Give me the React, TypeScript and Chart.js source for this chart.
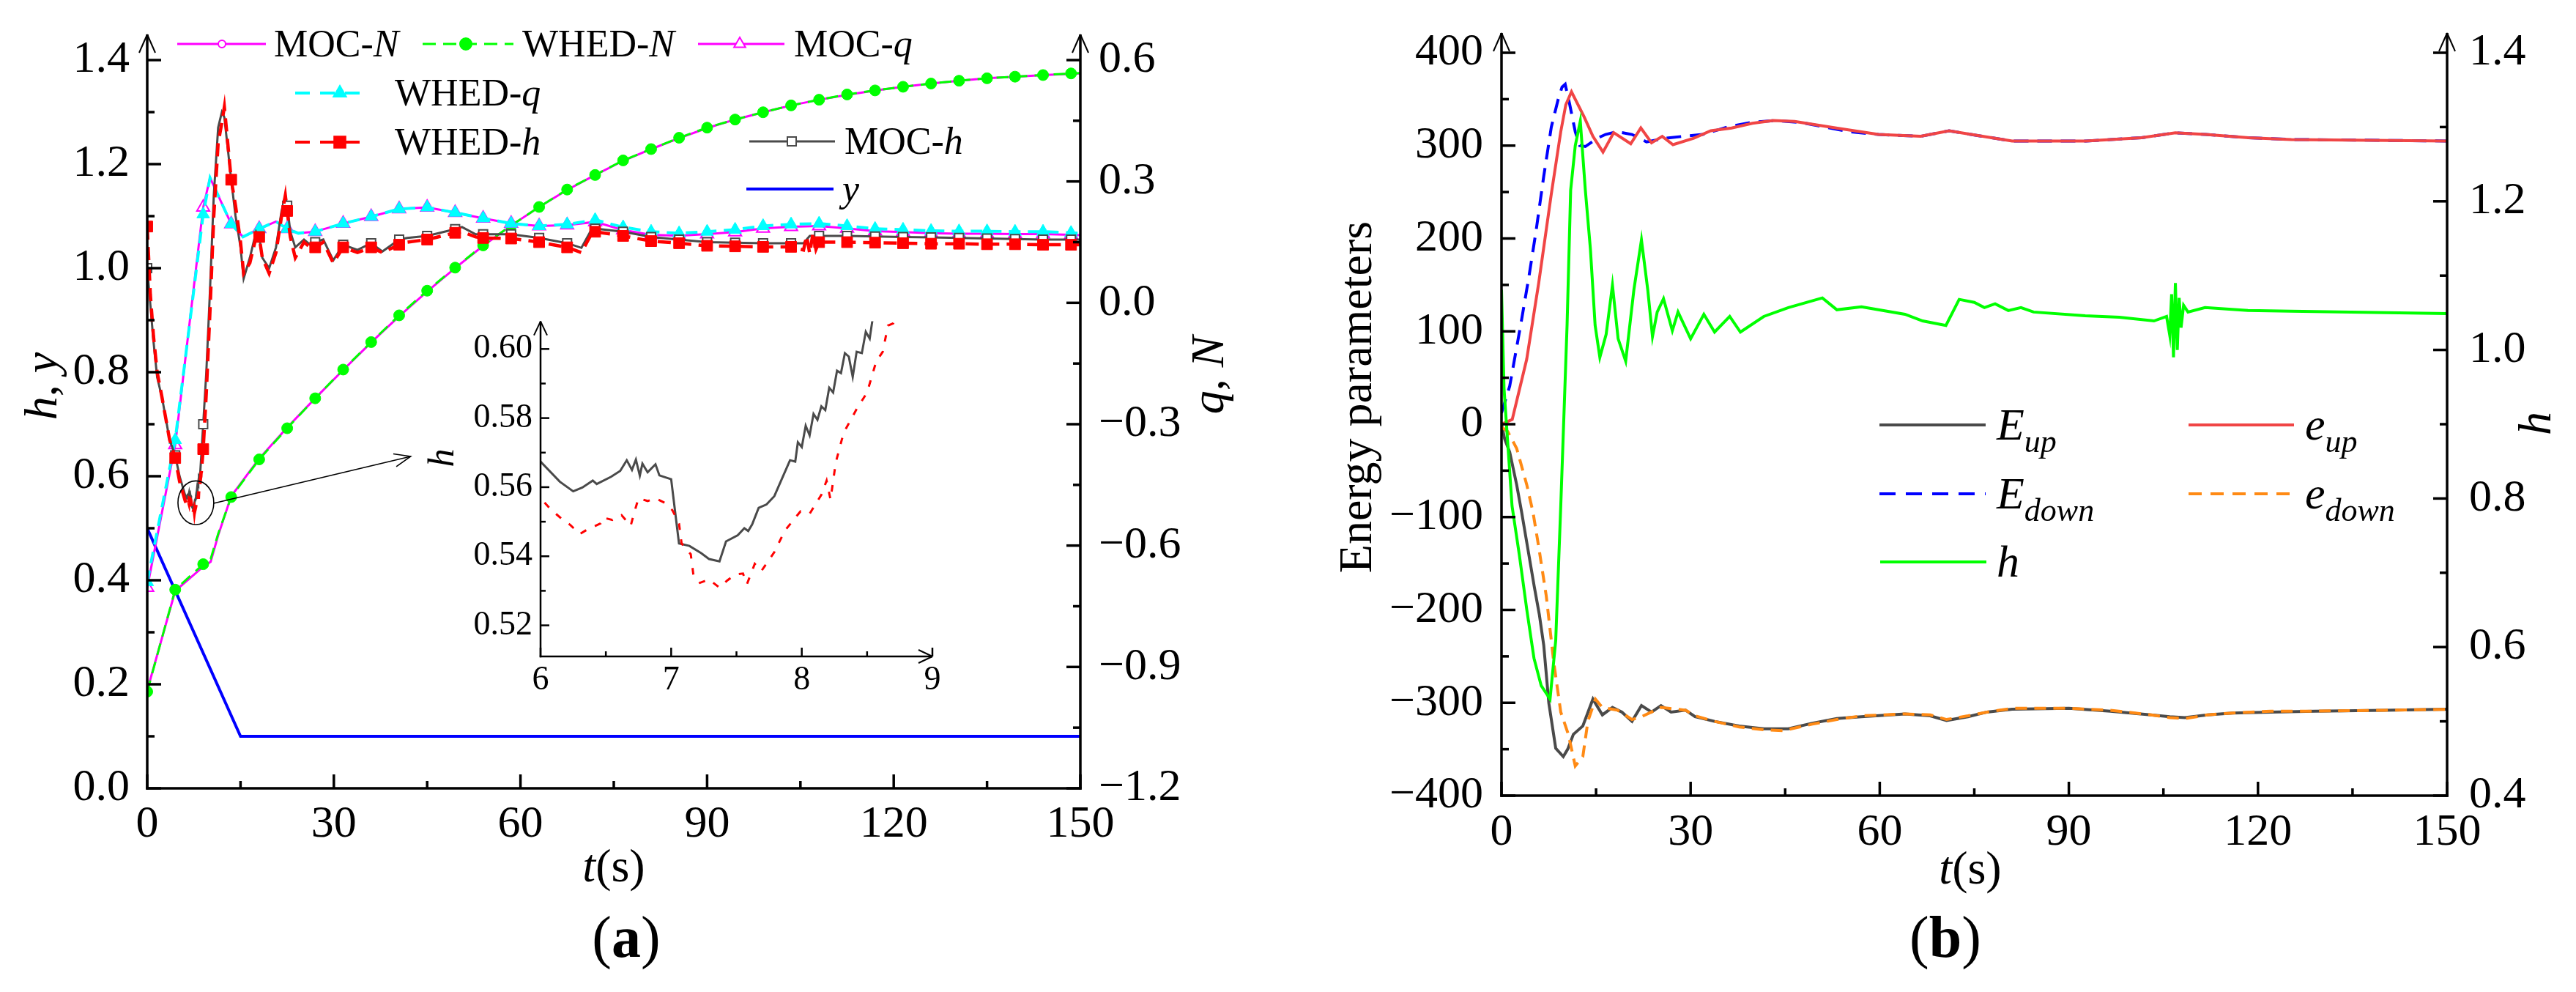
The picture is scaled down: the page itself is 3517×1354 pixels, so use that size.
import React, { useEffect, useRef } from "react";
import { Chart, registerables } from "chart.js";

Chart.register(...registerables);

const SERIF = '"Liberation Serif", "Times New Roman", Times, serif';

// ================= Panel (a) data =================
// N (right axis)
const N_T = [0, 4.5, 9, 10.2, 11.4, 13.5, 18, 22.5, 27, 31.5, 36, 40.5, 45, 49.5, 54, 58.5, 63, 67.5, 72, 76.5, 81, 85.5, 90, 94.5, 99, 103.5, 108, 112.5, 117, 121.5, 126, 130.5, 135, 139.5, 144, 148.5, 150];
const WHED_N = [-0.961, -0.709, -0.646, -0.633, -0.571, -0.48, -0.387, -0.31, -0.236, -0.165, -0.097, -0.031, 0.03, 0.087, 0.142, 0.191, 0.237, 0.28, 0.316, 0.352, 0.38, 0.408, 0.433, 0.453, 0.471, 0.488, 0.502, 0.515, 0.525, 0.534, 0.542, 0.549, 0.555, 0.559, 0.563, 0.567, 0.568];
const MOC_N = [-0.958, -0.712, -0.652, -0.64, -0.575, -0.478, -0.385, -0.308, -0.236, -0.166, -0.098, -0.033, 0.028, 0.086, 0.141, 0.191, 0.237, 0.279, 0.316, 0.351, 0.38, 0.407, 0.432, 0.453, 0.471, 0.488, 0.502, 0.514, 0.525, 0.534, 0.542, 0.549, 0.555, 0.559, 0.563, 0.566, 0.567];

// q (right axis)
const Q_T = [0, 4.5, 9, 10.1, 13.5, 15.4, 18, 20.7, 22.5, 24.3, 27, 31.5, 36, 40.5, 45, 49.5, 54, 58.5, 63, 67.5, 72, 76.5, 81, 85.5, 90, 94.5, 99, 103.5, 108, 112.5, 117, 121.5, 126, 130.5, 135, 139.5, 144, 148.5, 150];
const WHED_Q = [-0.69, -0.339, 0.219, 0.309, 0.195, 0.163, 0.183, 0.201, 0.183, 0.172, 0.176, 0.196, 0.213, 0.232, 0.236, 0.223, 0.209, 0.196, 0.19, 0.194, 0.205, 0.187, 0.176, 0.172, 0.176, 0.181, 0.19, 0.194, 0.196, 0.19, 0.183, 0.181, 0.178, 0.177, 0.177, 0.176, 0.176, 0.173, 0.172];
const MOC_Q = [-0.704, -0.351, 0.236, 0.309, 0.195, 0.163, 0.183, 0.201, 0.183, 0.172, 0.176, 0.196, 0.213, 0.232, 0.236, 0.223, 0.209, 0.196, 0.19, 0.192, 0.2, 0.18, 0.168, 0.166, 0.17, 0.175, 0.184, 0.188, 0.19, 0.184, 0.177, 0.175, 0.172, 0.171, 0.171, 0.17, 0.17, 0.168, 0.167];

// y (left axis)
const Y_T = [0, 15, 150];
const Y_V = [0.5, 0.1, 0.1];

// h (left axis) — MOC
const MOC_H_T = [0, 0.5, 1.0, 1.6, 2.4, 3.0, 3.6, 4.5, 5.2,
  6.0, 6.147, 6.25, 6.32, 6.4, 6.43, 6.54, 6.61, 6.66, 6.7, 6.73, 6.76, 6.78, 6.82, 6.88, 6.91, 7.0, 7.03, 7.06, 7.14, 7.23, 7.29, 7.37, 7.42, 7.51, 7.56, 7.59, 7.62, 7.67, 7.73, 7.79, 7.85, 7.91, 7.95, 7.97, 8.0, 8.03, 8.06, 8.09, 8.12, 8.15, 8.18, 8.21, 8.24, 8.27, 8.3, 8.33, 8.36, 8.39, 8.42, 8.46, 8.49, 8.52, 8.54,
  9.0, 9.5, 10.1, 10.7, 11.4, 12.0, 12.4, 13.5, 14.2, 15.0, 15.5, 16.5, 17.5, 18.0, 18.5, 19.6, 20.7, 21.6, 22.2, 22.5, 23.0, 23.8, 25.2, 26.7, 27.0, 28.3, 29.9, 31.5, 33.8, 36.0, 37.8, 40.5, 41.8, 45.0, 49.5, 50.6, 52.8, 54.0, 58.5, 63.0, 67.5, 69.8, 71.5, 72.0, 76.5, 81.0, 85.5, 90.0, 94.5, 99.0, 103.5, 105.5, 106.5, 108.0, 112.5, 117.0, 121.5, 126.0, 130.5, 135.0, 139.5, 144.0, 148.5, 150];
const MOC_H = [1.0, 0.93, 0.86, 0.79, 0.75, 0.71, 0.67, 0.64, 0.6,
  0.5674, 0.5616, 0.5588, 0.5599, 0.5619, 0.5609, 0.563, 0.5647, 0.5678, 0.565, 0.568, 0.5633, 0.5668, 0.5643, 0.5666, 0.5634, 0.5623, 0.553, 0.5437, 0.543, 0.5409, 0.5392, 0.5385, 0.5443, 0.5461, 0.5481, 0.5473, 0.5492, 0.554, 0.555, 0.5574, 0.5626, 0.5678, 0.5674, 0.573, 0.5716, 0.5778, 0.575, 0.5812, 0.5795, 0.5834, 0.5823, 0.5888, 0.5874, 0.5937, 0.593, 0.5988, 0.5978, 0.5919, 0.5992, 0.5988, 0.605, 0.603, 0.6081,
  0.7, 0.8, 0.96, 1.14, 1.27, 1.3, 1.29, 1.17, 1.1, 1.04, 0.98, 1.02, 1.07, 1.06, 1.02, 1.0, 1.04, 1.11, 1.14, 1.12, 1.07, 1.04, 1.055, 1.04, 1.05, 1.055, 1.015, 1.045, 1.035, 1.048, 1.032, 1.055, 1.058, 1.062, 1.075, 1.079, 1.065, 1.065, 1.065, 1.058, 1.048, 1.039, 1.076, 1.076, 1.07, 1.06, 1.055, 1.05, 1.049, 1.048, 1.048, 1.048, 1.062, 1.062, 1.062, 1.061, 1.06, 1.059, 1.058, 1.057, 1.056, 1.055, 1.055, 1.055];

// h (left axis) — WHED
const WHED_H_T = [0, 0.5, 1.0, 1.6, 2.4, 3.0, 3.6, 4.5, 5.2,
  6.0, 6.08, 6.16, 6.23, 6.3, 6.36, 6.46, 6.48, 6.55, 6.62, 6.69, 6.72, 6.75, 6.82, 6.88, 6.95, 7.01, 7.06, 7.08, 7.15, 7.17, 7.22, 7.29, 7.37, 7.43, 7.49, 7.55, 7.58, 7.64, 7.69, 7.79, 7.87, 7.99, 8.06, 8.15, 8.19, 8.22, 8.26, 8.32, 8.42, 8.5, 8.57, 8.62, 8.66, 8.7,
  9.0, 9.5, 10.1, 10.7, 11.4, 12.0, 12.4, 13.5, 14.2, 15.0, 15.5, 16.5, 17.5, 18.0, 18.5, 19.6, 20.7, 21.6, 22.2, 22.5, 23.0, 23.8, 25.2, 26.7, 27.0, 28.3, 29.9, 31.5, 33.8, 36.0, 37.8, 40.5, 41.8, 45.0, 49.5, 50.6, 52.8, 54.0, 58.5, 63.0, 67.5, 69.8, 71.5, 72.0, 76.5, 81.0, 85.5, 90.0, 94.5, 99.0, 103.5, 105.5, 106.0, 106.5, 107.0, 107.5, 108.0, 112.5, 117.0, 121.5, 126.0, 130.5, 135.0, 139.5, 144.0, 148.5, 150];
const WHED_H = [1.08, 0.95, 0.87, 0.8, 0.75, 0.71, 0.67, 0.635, 0.59,
  0.5568, 0.5535, 0.5509, 0.549, 0.5464, 0.5478, 0.5495, 0.5512, 0.5505, 0.5519, 0.5488, 0.553, 0.5568, 0.556, 0.5568, 0.5555, 0.5533, 0.5495, 0.5437, 0.5406, 0.5347, 0.5323, 0.5333, 0.5309, 0.533, 0.5347, 0.535, 0.5319, 0.5378, 0.5357, 0.5412, 0.5474, 0.553, 0.5523, 0.5578, 0.5619, 0.5564, 0.5671, 0.5757, 0.5826, 0.5874, 0.5964, 0.5992, 0.6068, 0.6074,
  0.652, 0.76, 0.92, 1.1, 1.24, 1.28, 1.31, 1.17, 1.12, 1.05, 0.99, 1.01, 1.06, 1.06, 1.02, 0.99, 1.03, 1.1, 1.14, 1.11, 1.06, 1.02, 1.05, 1.035, 1.04, 1.05, 1.01, 1.04, 1.03, 1.04, 1.03, 1.045, 1.05, 1.055, 1.068, 1.07, 1.06, 1.058, 1.057, 1.05, 1.04, 1.03, 1.068, 1.07, 1.062, 1.052, 1.048, 1.043, 1.042, 1.041, 1.041, 1.035, 1.062, 1.028, 1.066, 1.036, 1.05, 1.05, 1.049, 1.048, 1.047, 1.047, 1.046, 1.046, 1.045, 1.045, 1.045];

const A_X_TICKS = [0, 30, 60, 90, 120, 150];
const A_LEFT_TICKS = [0, 0.2, 0.4, 0.6, 0.8, 1.0, 1.2, 1.4];
const A_RIGHT_TICKS = [-1.2, -0.9, -0.6, -0.3, 0, 0.3, 0.6];
const INSET_X_TICKS = [6, 7, 8, 9];
const INSET_Y_TICKS = [0.52, 0.54, 0.56, 0.58, 0.6];

// ================= Panel (b) data =================
const EUP_T = [0, 0.5, 1.3, 2.4, 3.2, 4.0, 5.2, 6.0, 6.7, 7.5, 8.6, 9.8, 10.5, 11.4, 12.9, 14.5, 16.0, 17.6, 19.1, 20.7, 22.2, 23.8, 25.3, 26.9, 29.2, 30.7, 33.8, 37.7, 41.6, 45.5, 49.3, 53.2, 57.1, 64, 68, 70.6, 74, 77, 81, 90, 96.6, 103, 106, 108.4, 112, 116, 122, 129, 140, 150];
const E_UP = [0, -16, -30, -65, -95, -127, -175, -205, -238, -300, -349, -358, -350, -334, -325, -296, -313, -305, -310, -320, -303, -310, -303, -310, -308, -315, -320, -325, -328, -328, -322, -317, -315, -312, -314, -319, -315, -310, -307, -306, -309, -313, -315, -316, -313, -311, -310, -309, -308, -307];

const ELDOWN_T = [0, 1.0, 2.4, 4.0, 5.0, 5.9, 7.1, 8.3, 9.4, 10.6, 11.7, 12.9, 13.7, 14.9, 16.0, 18.4, 20.7, 22.2, 25.3, 29.2, 30.7, 33.8, 37.7, 41.6, 44.6, 49.3, 53.2, 57.1, 64, 68, 70.6, 74, 77, 81, 90, 96.6, 103, 106, 108.4, 112, 116, 122, 129, 140, 150];
const e_DOWN = [-3, -8, -26, -65, -95, -132, -185, -257, -310, -334, -368, -358, -320, -296, -305, -308, -318, -315, -305, -308, -314, -320, -326, -329, -330, -323, -318, -314, -312, -313, -318, -314, -310, -306, -306, -308, -313, -316, -317, -313, -311, -309, -309, -308, -307];

const EDOWN_T = [0, 1.3, 2.2, 3.2, 4.4, 5.5, 6.7, 7.9, 9.0, 9.6, 10.1, 10.8, 11.7, 12.4, 13.3, 15.2, 16.5, 18.3, 20.7, 23.0, 26.1, 28.8, 31.9, 35.8, 39.6, 43.5, 47.4, 51.3, 55.2, 59.8, 66.5, 71, 76.3, 81, 92.7, 101.5, 106.9, 111.7, 118.5, 125.3, 150];
const E_DOWN = [12, 41, 75, 113, 161, 209, 267, 320, 350, 363, 366, 345, 315, 300, 299, 308, 312, 315, 312, 304, 308, 310, 312, 320, 325, 327, 325, 320, 315, 312, 310, 316, 310, 305, 305, 308.5, 313.8, 312, 308.5, 306.6, 305];

const ELUP_T = [0, 1.7, 4.0, 5.9, 7.9, 9.4, 10.2, 11.1, 13.1, 14.5, 16.1, 17.8, 20.5, 22.1, 23.8, 25.5, 27.2, 30.5, 33.2, 36.5, 39.8, 43.1, 46.5, 53.1, 59.8, 66.5, 71, 76.3, 81, 92.7, 101.5, 106.9, 111.7, 118.5, 125.3, 150];
const e_UP = [0, 5, 70, 152, 248, 315, 344, 358, 331, 310, 293, 314, 302, 319, 303, 310, 301, 308, 316, 319, 324, 327, 326, 319, 312, 310, 316, 310, 305, 305, 308.5, 313.8, 312, 308.5, 306.6, 305];

const HB_T = [0, 0.4, 1.67, 2.83, 4.0, 5.15, 6.3, 7.7, 8.6, 9.4, 10.4, 10.97, 11.7, 12.5, 13.3, 14.1, 14.85, 15.6, 16.6, 17.6, 18.5, 19.7, 21.0, 22.2, 23.2, 23.95, 24.7, 25.7, 27.1, 28.0, 30.0, 32.1, 33.8, 36.2, 37.9, 41.6, 45.5, 50.9, 53.2, 57.1, 64, 66.8, 70.5, 72.6, 75, 76.6, 78.3, 80.4, 82.4, 84.4, 92.6, 98, 103.5, 105.5, 106.0, 106.3, 106.6, 106.9, 107.2, 107.5, 107.8, 108.2, 108.9, 111.6, 118.4, 125.2, 150];
const H_B = [1.081, 0.948, 0.79, 0.724, 0.651, 0.585, 0.548, 0.53, 0.609, 0.79, 1.033, 1.215, 1.275, 1.308, 1.215, 1.136, 1.033, 0.99, 1.021, 1.087, 1.015, 0.985, 1.081, 1.148, 1.081, 1.018, 1.051, 1.069, 1.026, 1.051, 1.015, 1.048, 1.024, 1.045, 1.024, 1.045, 1.057, 1.07, 1.054, 1.058, 1.048, 1.039, 1.033, 1.068, 1.064, 1.057, 1.062, 1.053, 1.057, 1.051, 1.046, 1.044, 1.039, 1.045, 1.02, 1.075, 0.99, 1.09, 1.0, 1.07, 1.03, 1.06, 1.051, 1.057, 1.053, 1.052, 1.049];

const B_X_TICKS = [0, 30, 60, 90, 120, 150];
const B_LEFT_TICKS = [-400, -300, -200, -100, 0, 100, 200, 300, 400];
const B_RIGHT_TICKS = [0.4, 0.6, 0.8, 1.0, 1.2, 1.4];

// zoom-in mark (data space) for panel (a)
const ZOOM_MARK = { t: 7.82, h: 0.549, dt: 2.88, dh: 0.042, t0: 10.67, h0: 0.548, t1: 42.35, h1: 0.638 };

// ================= styling =================
const MAGENTA = "#FF00FF";
const GREEN = "#00FF00";
const CYAN = "#00FFFF";
const RED = "#FF0000";
const GRAY = "#4A4A4A";
const BLUE = "#0000FF";
const ORANGE = "#FF8A14";
const RED_B = "#F04545";

const fmt = (v: number, dec: number) => {
  const s = Math.abs(v).toFixed(dec);
  return v < -1e-9 ? "\u2212" + s : s;
};
const pts = (t: number[], v: number[]) => t.map((x, i) => ({ x, y: v[i] }));
const isMark = (x: number) => Math.abs(x / 4.5 - Math.round(x / 4.5)) < 1e-6;
const markR = (r: number) => (c: any) => (c && c.raw && isMark(c.raw.x) ? r : 0);

function scaleCfg(pos: string, min: number, max: number, ticks: number[], dec: number, size: number, pad: number, fit: number) {
  return {
    type: "linear",
    position: pos,
    min,
    max,
    grid: { display: false, drawTicks: false },
    border: { display: false },
    afterBuildTicks: (s: any) => {
      s.ticks = ticks.map((v) => ({ value: v }));
    },
    afterFit: (s: any) => {
      if (pos === "bottom") s.height = fit;
      else s.width = fit;
    },
    ticks: {
      padding: pad,
      color: "#000",
      autoSkip: false,
      maxRotation: 0,
      font: { family: SERIF, size },
      callback: (v: any) => fmt(Number(v), dec),
    },
  };
}

type AxisDef = { id: string; side: "bottom" | "left" | "right"; lw: number; major: number; minor: number; arrow?: number; hw?: number; len?: number };

function axesPlugin(defs: AxisDef[]) {
  return {
    id: "customAxes",
    afterDraw(chart: any) {
      const { ctx, chartArea: ca } = chart;
      ctx.save();
      ctx.strokeStyle = "#000";
      ctx.setLineDash([]);
      const seg = (x1: number, y1: number, x2: number, y2: number) => {
        ctx.beginPath();
        ctx.moveTo(x1, y1);
        ctx.lineTo(x2, y2);
        ctx.stroke();
      };
      for (const d of defs) {
        const sc = chart.scales[d.id];
        const vals: number[] = sc.ticks.map((t: any) => t.value);
        const minors = vals.slice(1).map((v, i) => (v + vals[i]) / 2);
        const ext = d.arrow ?? 0;
        const hw = d.hw ?? 11;
        const len = d.len ?? 25;
        ctx.lineWidth = d.lw;
        if (d.side === "bottom") {
          const y = ca.bottom;
          seg(ca.left - d.lw / 2, y, ca.right + ext + (d.arrow !== undefined ? 0 : d.lw / 2), y);
          vals.forEach((v) => {
            const x = sc.getPixelForValue(v);
            seg(x, y, x, y - d.major);
          });
          minors.forEach((v) => {
            const x = sc.getPixelForValue(v);
            seg(x, y, x, y - d.minor);
          });
          if (d.arrow !== undefined) {
            const tip = ca.right + ext;
            ctx.lineWidth = 2;
            seg(tip - len, y - hw, tip, y);
            seg(tip, y, tip - len, y + hw);
          }
        } else {
          const x = d.side === "left" ? ca.left : ca.right;
          const dir = d.side === "left" ? 1 : -1;
          seg(x, ca.bottom + d.lw / 2, x, ca.top - ext);
          vals.forEach((v) => {
            const y = sc.getPixelForValue(v);
            seg(x, y, x + dir * d.major, y);
          });
          minors.forEach((v) => {
            const y = sc.getPixelForValue(v);
            seg(x, y, x + dir * d.minor, y);
          });
          if (d.arrow !== undefined) {
            const tip = ca.top - ext;
            ctx.lineWidth = 2;
            seg(x - hw, tip + len, x, tip);
            seg(x, tip, x + hw, tip + len);
          }
        }
      }
      ctx.restore();
    },
  };
}

function zoomMarkPlugin() {
  return {
    id: "zoomMark",
    afterDatasetsDraw(chart: any) {
      const { ctx } = chart;
      const xs = chart.scales.x;
      const ys = chart.scales.yL;
      const m = ZOOM_MARK;
      const cx = xs.getPixelForValue(m.t);
      const cy = ys.getPixelForValue(m.h);
      const rx = xs.getPixelForValue(m.t + m.dt) - cx;
      const ry = cy - ys.getPixelForValue(m.h + m.dh);
      ctx.save();
      ctx.strokeStyle = "#000";
      ctx.lineWidth = 1.6;
      ctx.setLineDash([]);
      ctx.beginPath();
      ctx.ellipse(cx, cy, rx, ry, 0, 0, Math.PI * 2);
      ctx.stroke();
      const x0 = xs.getPixelForValue(m.t0);
      const y0 = ys.getPixelForValue(m.h0);
      const x1 = xs.getPixelForValue(m.t1);
      const y1 = ys.getPixelForValue(m.h1);
      ctx.beginPath();
      ctx.moveTo(x0, y0);
      ctx.lineTo(x1, y1);
      ctx.stroke();
      const a = Math.atan2(y1 - y0, x1 - x0);
      const L = 24;
      const sp = 0.38;
      ctx.beginPath();
      ctx.moveTo(x1 - L * Math.cos(a - sp), y1 - L * Math.sin(a - sp));
      ctx.lineTo(x1, y1);
      ctx.lineTo(x1 - L * Math.cos(a + sp), y1 - L * Math.sin(a + sp));
      ctx.stroke();
      ctx.restore();
    },
  };
}

type Seg = { t: string; it?: boolean; b?: boolean; s?: number; dy?: number };
type TextItem = { segs: Seg[]; x: number; y: number; size: number; rot?: number; align?: "left" | "center"; base?: CanvasTextBaseline };
type Marker = { type: "circle" | "triangle" | "rect"; x: number; r: number; fill: string; stroke: string };
type LegendItem = { x1: number; x2: number; y: number; color: string; w: number; dash?: number[]; marker?: Marker; tx: number; size: number; segs: Seg[] };

function drawRich(ctx: CanvasRenderingContext2D, it: TextItem) {
  ctx.save();
  ctx.translate(it.x, it.y);
  if (it.rot) ctx.rotate((it.rot * Math.PI) / 180);
  ctx.textBaseline = it.base ?? "middle";
  ctx.textAlign = "left";
  ctx.fillStyle = "#000";
  const font = (s: Seg) => `${s.it ? "italic " : ""}${s.b ? "bold " : ""}${s.s ?? it.size}px ${SERIF}`;
  const ws = it.segs.map((s) => {
    ctx.font = font(s);
    return ctx.measureText(s.t).width;
  });
  const total = ws.reduce((a, b) => a + b, 0);
  let x = it.align === "left" ? 0 : -total / 2;
  it.segs.forEach((s, i) => {
    ctx.font = font(s);
    ctx.fillText(s.t, x, s.dy ?? 0);
    x += ws[i];
  });
  ctx.restore();
}

function drawMarker(ctx: CanvasRenderingContext2D, m: Marker, y: number) {
  ctx.save();
  ctx.fillStyle = m.fill;
  ctx.strokeStyle = m.stroke;
  ctx.lineWidth = 2;
  ctx.setLineDash([]);
  ctx.beginPath();
  if (m.type === "circle") ctx.arc(m.x, y, m.r, 0, Math.PI * 2);
  else if (m.type === "rect") {
    const h = m.r * Math.SQRT1_2;
    ctx.rect(m.x - h, y - h, 2 * h, 2 * h);
  } else {
    ctx.moveTo(m.x, y - m.r);
    ctx.lineTo(m.x + 0.866 * m.r, y + 0.5 * m.r);
    ctx.lineTo(m.x - 0.866 * m.r, y + 0.5 * m.r);
    ctx.closePath();
  }
  ctx.fill();
  ctx.stroke();
  ctx.restore();
}

function decorPlugin(texts: TextItem[], legend: LegendItem[]) {
  return {
    id: "decor",
    afterDraw(chart: any) {
      const ctx: CanvasRenderingContext2D = chart.ctx;
      legend.forEach((l) => {
        ctx.save();
        ctx.strokeStyle = l.color;
        ctx.lineWidth = l.w;
        ctx.setLineDash(l.dash ?? []);
        ctx.beginPath();
        ctx.moveTo(l.x1, l.y);
        ctx.lineTo(l.x2, l.y);
        ctx.stroke();
        ctx.restore();
        if (l.marker) drawMarker(ctx, l.marker, l.y);
        drawRich(ctx, { segs: l.segs, x: l.tx, y: l.y + l.size * 0.33, size: l.size, align: "left", base: "alphabetic" });
      });
      texts.forEach((t) => drawRich(ctx, t));
    },
  };
}

// ================= chart configs =================
const A_TEXTS: TextItem[] = [
  { segs: [{ t: "h", it: true }, { t: ", " }, { t: "y", it: true }], x: 60, y: 527, size: 64, rot: -90 },
  { segs: [{ t: "q", it: true }, { t: ", " }, { t: "N", it: true }], x: 1653, y: 512, size: 64, rot: -90 },
  { segs: [{ t: "t", it: true }, { t: "(s)" }], x: 838, y: 1186, size: 64 },
  { segs: [{ t: "(" }, { t: "a", b: true }, { t: ")" }], x: 855, y: 1285, size: 80 },
];
const A_LEGEND: LegendItem[] = [
  { x1: 242, x2: 363, y: 60, color: MAGENTA, w: 3, marker: { type: "circle", x: 303, r: 5, fill: "#fff", stroke: MAGENTA }, tx: 374, size: 52, segs: [{ t: "MOC-" }, { t: "N", it: true }] },
  { x1: 577, x2: 701, y: 60, color: GREEN, w: 3, dash: [18, 10], marker: { type: "circle", x: 636, r: 8, fill: GREEN, stroke: GREEN }, tx: 713, size: 52, segs: [{ t: "WHED-" }, { t: "N", it: true }] },
  { x1: 953, x2: 1071, y: 60, color: MAGENTA, w: 3, marker: { type: "triangle", x: 1010, r: 9, fill: "#fff", stroke: MAGENTA }, tx: 1084, size: 52, segs: [{ t: "MOC-" }, { t: "q", it: true }] },
  { x1: 403, x2: 500, y: 127, color: CYAN, w: 4, dash: [20, 14], marker: { type: "triangle", x: 464, r: 10, fill: CYAN, stroke: CYAN }, tx: 539, size: 52, segs: [{ t: "WHED-" }, { t: "q", it: true }] },
  { x1: 403, x2: 500, y: 194, color: RED, w: 4, dash: [20, 14], marker: { type: "rect", x: 464, r: 11, fill: RED, stroke: RED }, tx: 539, size: 52, segs: [{ t: "WHED-" }, { t: "h", it: true }] },
  { x1: 1023, x2: 1140, y: 193, color: GRAY, w: 3, marker: { type: "rect", x: 1081, r: 8.5, fill: "#fff", stroke: GRAY }, tx: 1153, size: 52, segs: [{ t: "MOC-" }, { t: "h", it: true }] },
  { x1: 1019, x2: 1138, y: 258, color: BLUE, w: 4, tx: 1150, size: 52, segs: [{ t: "y", it: true }] },
];

const B_TEXTS: TextItem[] = [
  { segs: [{ t: "Energy parameters" }], x: 95, y: 542, size: 64, rot: -90 },
  { segs: [{ t: "h", it: true }], x: 1705, y: 578, size: 64, rot: -90 },
  { segs: [{ t: "t", it: true }, { t: "(s)" }], x: 930, y: 1189, size: 64 },
  { segs: [{ t: "(" }, { t: "b", b: true }, { t: ")" }], x: 896, y: 1285, size: 80 },
];
const SUB = 44;
const B_LEGEND: LegendItem[] = [
  { x1: 806, x2: 951, y: 580, color: GRAY, w: 4, tx: 966, size: 62, segs: [{ t: "E", it: true }, { t: "up", it: true, s: SUB, dy: 17 }] },
  { x1: 1228, x2: 1372, y: 580, color: RED_B, w: 4, tx: 1387, size: 62, segs: [{ t: "e", it: true }, { t: "up", it: true, s: SUB, dy: 17 }] },
  { x1: 806, x2: 951, y: 674, color: BLUE, w: 4, dash: [22, 14], tx: 966, size: 62, segs: [{ t: "E", it: true }, { t: "down", it: true, s: SUB, dy: 17 }] },
  { x1: 1228, x2: 1372, y: 674, color: ORANGE, w: 4, dash: [18, 12], tx: 1387, size: 62, segs: [{ t: "e", it: true }, { t: "down", it: true, s: SUB, dy: 17 }] },
  { x1: 807, x2: 952, y: 767, color: GREEN, w: 4, tx: 966, size: 62, segs: [{ t: "h", it: true }] },
];

const baseOptions = (top: number, right = 0) => ({
  responsive: false,
  animation: false,
  devicePixelRatio: 1,
  events: [],
  layout: { padding: { top, left: 0, right, bottom: 0 } },
  plugins: { legend: { display: false }, tooltip: { enabled: false } },
  elements: { line: { tension: 0, fill: false } },
});

function cfgA(): any {
  return {
    type: "line",
    data: {
      datasets: [
        { label: "WHED-h", data: pts(WHED_H_T, WHED_H), yAxisID: "yL", borderColor: RED, borderWidth: 4.5, borderDash: [18, 10], pointStyle: "rect", pointRadius: markR(10.5), pointBackgroundColor: RED, pointBorderColor: RED, pointBorderWidth: 1, order: 1 },
        { label: "MOC-h", data: pts(MOC_H_T, MOC_H), yAxisID: "yL", borderColor: GRAY, borderWidth: 3, pointStyle: "rect", pointRadius: markR(8.5), pointBackgroundColor: "#fff", pointBorderColor: GRAY, pointBorderWidth: 2, order: 2 },
        { label: "WHED-q", data: pts(Q_T, WHED_Q), yAxisID: "yR", borderColor: CYAN, borderWidth: 4, borderDash: [16, 10], pointStyle: "triangle", pointRadius: markR(10), pointBackgroundColor: CYAN, pointBorderColor: CYAN, pointBorderWidth: 1, order: 3 },
        { label: "MOC-q", data: pts(Q_T, MOC_Q), yAxisID: "yR", borderColor: MAGENTA, borderWidth: 3, pointStyle: "triangle", pointRadius: markR(10), pointBackgroundColor: "rgba(255,255,255,0)", pointBorderColor: MAGENTA, pointBorderWidth: 2, order: 4 },
        { label: "WHED-N", data: pts(N_T, WHED_N), yAxisID: "yR", borderColor: GREEN, borderWidth: 3, borderDash: [16, 10], pointStyle: "circle", pointRadius: markR(7.5), pointBackgroundColor: GREEN, pointBorderColor: GREEN, pointBorderWidth: 1, order: 5 },
        { label: "MOC-N", data: pts(N_T, MOC_N), yAxisID: "yR", borderColor: MAGENTA, borderWidth: 3, pointRadius: 0, order: 6 },
        { label: "y", data: pts(Y_T, Y_V), yAxisID: "yL", borderColor: BLUE, borderWidth: 4, pointRadius: 0, order: 7 },
      ],
    },
    options: {
      ...baseOptions(82),
      scales: {
        x: scaleCfg("bottom", 0, 150, A_X_TICKS, 0, 62, 13, 278),
        yL: scaleCfg("left", 0, 1.4, A_LEFT_TICKS, 1, 62, 24, 201),
        yR: scaleCfg("right", -1.2, 0.6, A_RIGHT_TICKS, 1, 62, 25, 285),
      },
    },
    plugins: [
      axesPlugin([
        { id: "x", side: "bottom", lw: 3.5, major: 19, minor: 10 },
        { id: "yL", side: "left", lw: 3.5, major: 19, minor: 10, arrow: 35 },
        { id: "yR", side: "right", lw: 3.5, major: 19, minor: 10, arrow: 35 },
      ]),
      zoomMarkPlugin(),
      decorPlugin(A_TEXTS, A_LEGEND),
    ],
  };
}

function cfgInset(): any {
  return {
    type: "line",
    data: {
      datasets: [
        { label: "WHED-h", data: pts(WHED_H_T, WHED_H), borderColor: RED, borderWidth: 3, borderDash: [9, 13], pointRadius: 0, clip: 0, order: 1 },
        { label: "MOC-h", data: pts(MOC_H_T, MOC_H), borderColor: GRAY, borderWidth: 3, pointRadius: 0, clip: 0, order: 2 },
      ],
    },
    options: {
      ...baseOptions(31, 47),
      scales: {
        x: scaleCfg("bottom", 6, 9, INSET_X_TICKS, 0, 46, 5, 84),
        y: scaleCfg("left", 0.511, 0.608, INSET_Y_TICKS, 2, 46, 11, 178),
      },
    },
    plugins: [
      axesPlugin([
        { id: "x", side: "bottom", lw: 2.5, major: 12, minor: 7, arrow: 0, hw: 9, len: 19 },
        { id: "y", side: "left", lw: 2.5, major: 12, minor: 7, arrow: 0, hw: 9, len: 19 },
      ]),
      decorPlugin([{ segs: [{ t: "h", it: true }], x: 46, y: 225, size: 50, rot: -90 }], []),
    ],
  };
}

function cfgB(): any {
  return {
    type: "line",
    data: {
      datasets: [
        { label: "h", data: pts(HB_T, H_B), yAxisID: "yR", borderColor: GREEN, borderWidth: 4, pointRadius: 0, order: 1 },
        { label: "e_down", data: pts(ELDOWN_T, e_DOWN), yAxisID: "yL", borderColor: ORANGE, borderWidth: 4, borderDash: [16, 10], pointRadius: 0, order: 2 },
        { label: "E_up", data: pts(EUP_T, E_UP), yAxisID: "yL", borderColor: GRAY, borderWidth: 4, pointRadius: 0, order: 3 },
        { label: "e_up", data: pts(ELUP_T, e_UP), yAxisID: "yL", borderColor: RED_B, borderWidth: 4, pointRadius: 0, order: 4 },
        { label: "E_down", data: pts(EDOWN_T, E_DOWN), yAxisID: "yL", borderColor: BLUE, borderWidth: 4, borderDash: [20, 12], pointRadius: 0, order: 5 },
      ],
    },
    options: {
      ...baseOptions(72),
      scales: {
        x: scaleCfg("bottom", 0, 150, B_X_TICKS, 0, 62, 14, 268),
        yL: scaleCfg("left", -400, 400, B_LEFT_TICKS, 0, 62, 25, 290),
        yR: scaleCfg("right", 0.4, 1.4, B_RIGHT_TICKS, 1, 62, 30, 176),
      },
    },
    plugins: [
      axesPlugin([
        { id: "x", side: "bottom", lw: 3.5, major: 19, minor: 10 },
        { id: "yL", side: "left", lw: 3.5, major: 19, minor: 10, arrow: 27 },
        { id: "yR", side: "right", lw: 3.5, major: 19, minor: 10, arrow: 27 },
      ]),
      decorPlugin(B_TEXTS, B_LEGEND),
    ],
  };
}

export default function App() {
  const aRef = useRef<HTMLCanvasElement>(null);
  const iRef = useRef<HTMLCanvasElement>(null);
  const bRef = useRef<HTMLCanvasElement>(null);

  useEffect(() => {
    const charts = [new Chart(aRef.current as any, cfgA()), new Chart(iRef.current as any, cfgInset()), new Chart(bRef.current as any, cfgB())];
    let alive = true;
    const fonts: any = (document as any).fonts;
    if (fonts && fonts.ready) {
      fonts.ready.then(() => {
        if (alive) charts.forEach((c) => c.update());
      });
    }
    return () => {
      alive = false;
      charts.forEach((c) => c.destroy());
    };
  }, []);

  return (
    <div style={{ position: "absolute", left: 0, top: 0, width: 3517, height: 1354, background: "#fff", overflow: "hidden" }}>
      <canvas ref={aRef} width={1760} height={1354} style={{ position: "absolute", left: 0, top: 0, width: 1760, height: 1354 }} />
      <canvas ref={iRef} width={760} height={580} style={{ position: "absolute", left: 560, top: 400, width: 760, height: 580 }} />
      <canvas ref={bRef} width={1757} height={1354} style={{ position: "absolute", left: 1760, top: 0, width: 1757, height: 1354 }} />
    </div>
  );
}
